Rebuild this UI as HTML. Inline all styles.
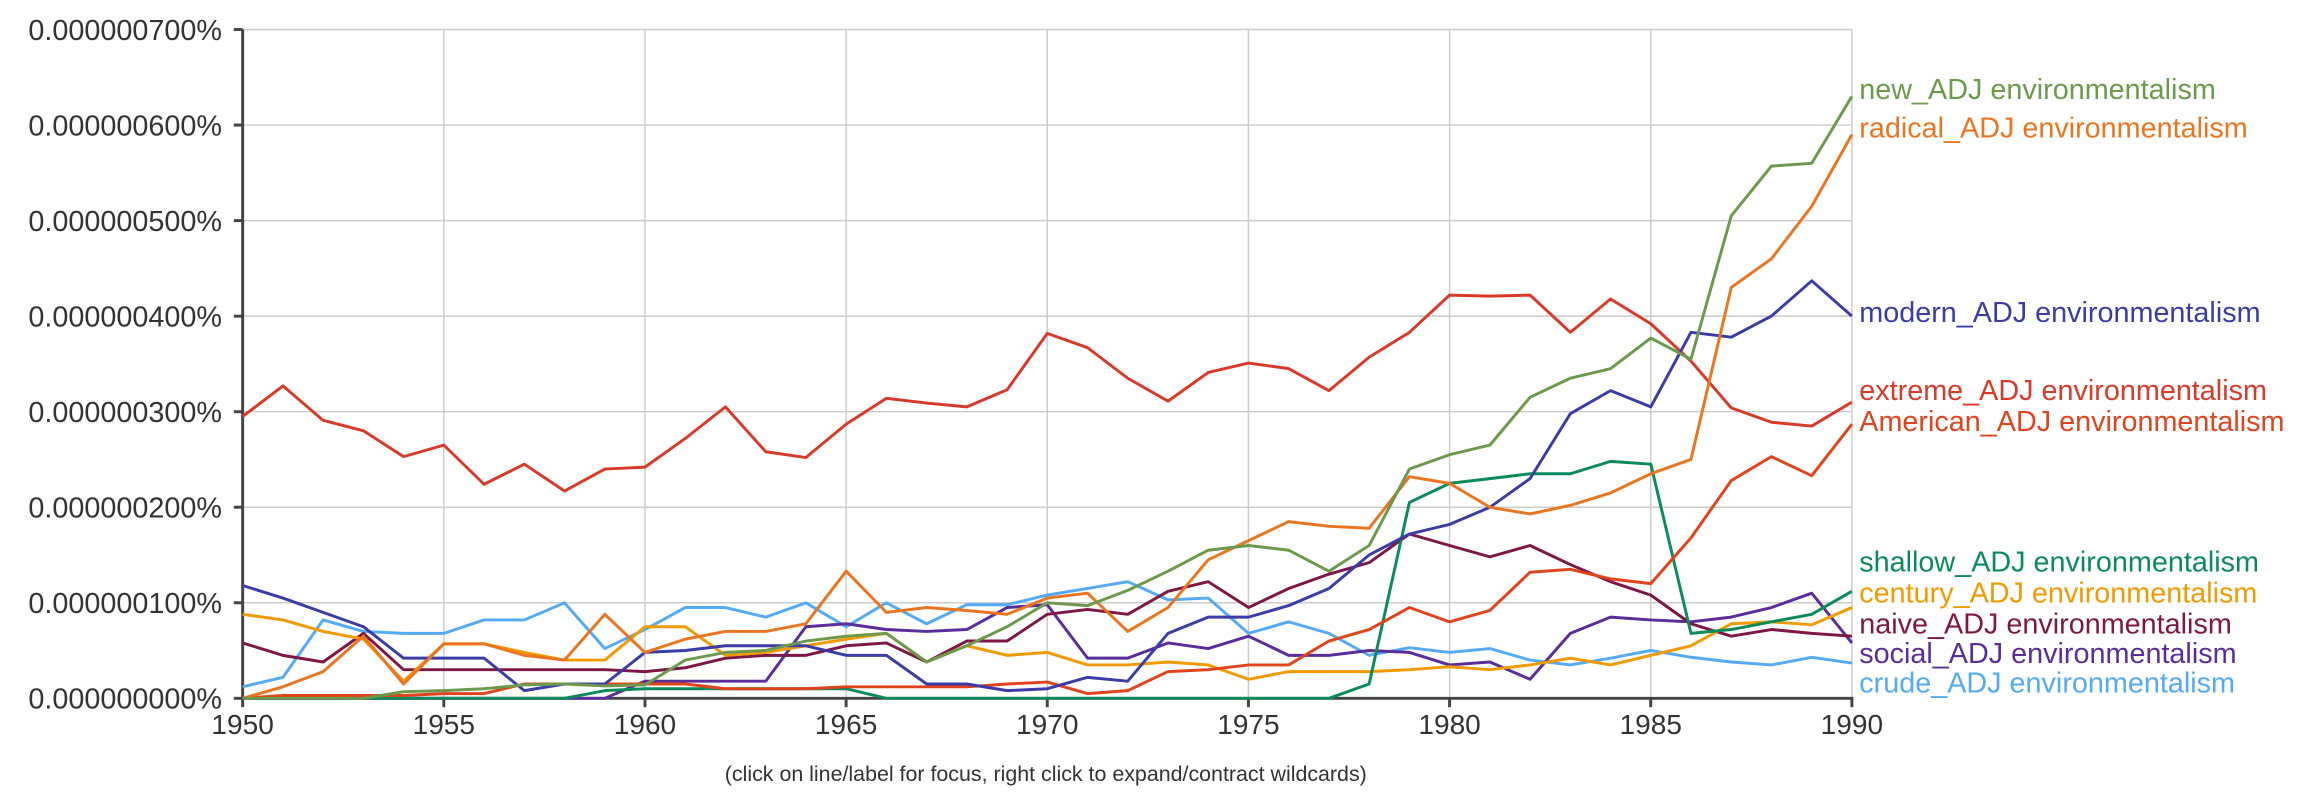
<!DOCTYPE html>
<html><head><meta charset="utf-8"><style>
html,body{margin:0;padding:0;background:#fff;}
svg{display:block;font-family:"Liberation Sans",Arial,sans-serif;}
</style></head><body>
<svg id="chart" width="2316" height="812" viewBox="0 0 1568 550" xmlns="http://www.w3.org/2000/svg">
<g id="grid"></g>
<g id="axes"></g>
<g id="lines"></g>
<g id="labels"></g>
<text x="708" y="529" font-size="14.5" fill="#333" text-anchor="middle">(click on line/label for focus, right click to expand/contract wildcards)</text>
</svg>
<script>
const years = [];
for (let y = 1950; y <= 1990; y++) years.push(y);
const yTicks = [0,100,200,300,400,500,600,700];
const yTickLabels = ["0.000000000%","0.000000100%","0.000000200%","0.000000300%","0.000000400%","0.000000500%","0.000000600%","0.000000700%"];
const xTicks = [1950,1955,1960,1965,1970,1975,1980,1985,1990];
const seriesNames = ["crude_ADJ environmentalism","social_ADJ environmentalism","naive_ADJ environmentalism","century_ADJ environmentalism","shallow_ADJ environmentalism","American_ADJ environmentalism","extreme_ADJ environmentalism","modern_ADJ environmentalism","radical_ADJ environmentalism","new_ADJ environmentalism"];
const crude = [12,22,82,70,68,68,82,82,100,52,72,95,95,85,100,75,100,78,98,98,108,115,122,103,105,68,80,68,45,53,48,52,40,35,42,50,43,38,35,43,37];
const social = [0,0,0,0,0,0,0,0,0,0,18,18,18,18,75,78,72,70,72,95,98,42,42,58,52,65,45,45,50,48,35,38,20,68,85,82,80,85,95,110,58];
const naive = [58,45,38,68,30,30,30,30,30,30,28,32,42,45,45,55,58,38,60,60,88,93,88,112,122,95,115,130,142,172,160,148,160,140,122,108,78,65,72,68,65];
const century = [88,82,70,62,18,57,57,48,40,40,75,75,45,48,55,62,68,38,55,45,48,35,35,38,35,20,28,28,28,30,33,30,35,42,35,45,55,78,80,77,95];
const shallow = [0,0,0,0,0,0,0,0,0,8,10,10,10,10,10,10,0,0,0,0,0,0,0,0,0,0,0,0,15,205,225,230,235,235,248,245,68,72,80,88,112];
const american = [0,3,3,3,3,5,5,15,15,15,15,15,10,10,10,12,12,12,12,15,17,5,8,28,30,35,35,60,72,95,80,92,132,135,125,120,168,228,253,233,287];
const extreme = [295,327,291,280,253,265,224,245,217,240,242,272,305,258,252,287,314,309,305,323,382,367,335,311,341,351,345,322,357,383,422,421,422,383,418,392,353,304,289,285,310];
const modern = [118,105,90,75,42,42,42,8,15,15,48,50,55,55,55,45,45,15,15,8,10,22,18,68,85,85,97,115,150,172,182,200,230,298,322,305,383,378,400,437,400];
const radical = [0,12,28,65,15,57,57,45,40,88,48,62,70,70,78,133,90,95,92,88,105,110,70,95,145,165,185,180,178,232,225,200,193,202,215,235,250,430,460,515,590];
const newS = [0,0,0,0,7,8,10,14,15,13,14,40,48,50,60,65,68,38,55,75,100,97,113,133,155,160,155,133,160,240,255,265,315,335,345,377,355,505,557,560,630];

const seriesData = [crude,social,naive,century,shallow,american,extreme,modern,radical,newS];
const colors = ["#55aaf5","#5a2d9a","#7d1746","#f09a00","#0b8a5a","#e0441c","#d83a2a","#3b3ca6","#ea7520","#6b9a4c"];
const labelY = [462,442,422,401,380,285,264,211,86,60];

const X0=164, X1=1254, Y0=473, Y1=20;
function xs(yr){return X0+(yr-1950)*(X1-X0)/40;}
function ys(v){return Y0-v*(Y0-Y1)/700;}
const NS="http://www.w3.org/2000/svg";
function mk(tag,attrs,parent){const e=document.createElementNS(NS,tag);for(const k in attrs)e.setAttribute(k,attrs[k]);parent.appendChild(e);return e;}
const grid=document.getElementById('grid'),axes=document.getElementById('axes'),lines=document.getElementById('lines'),labels=document.getElementById('labels');

yTicks.forEach((t,i)=>{
  const g=mk('line',{x1:X0,x2:X1,y1:ys(t),y2:ys(t),stroke:'#ccc','stroke-width':1},grid);
  
  
  const tk=mk('line',{x1:X0-6,x2:X0,y1:ys(t),y2:ys(t),stroke:'#444','stroke-width':2},axes);
  
  
  const tx=mk('text',{x:X0-14,y:ys(t)+7,'font-size':19.5,fill:'#333','text-anchor':'end'},axes);
  tx.textContent=yTickLabels[i];
  
  
});
xTicks.forEach(t=>{
  const g=mk('line',{x1:xs(t),x2:xs(t),y1:Y1,y2:Y0,stroke:'#ccc','stroke-width':1},grid);
  
  
  const tk=mk('line',{x1:xs(t),x2:xs(t),y1:Y0,y2:Y0+6,stroke:'#444','stroke-width':2},axes);
  
  
  const tx=mk('text',{x:xs(t),y:Y0+24,'font-size':19,fill:'#333','text-anchor':'middle'},axes);
  tx.textContent=t;
  
  
});
const ya=mk('line',{x1:X0,x2:X0,y1:Y1,y2:Y0+1,stroke:'#444','stroke-width':2},axes);


const xa=mk('line',{x1:X0-1,x2:X1+1,y1:Y0,y2:Y0,stroke:'#444','stroke-width':2},axes);



seriesData.forEach((d,i)=>{
  const pts=d.map((v,j)=>xs(years[j]).toFixed(1)+','+ys(v).toFixed(1)).join(' ');
  const p=mk('polyline',{points:pts,fill:'none',stroke:colors[i],'stroke-width':2,'stroke-linejoin':'round'},lines);
  
  
  const t=mk('text',{x:1259,y:labelY[i]+7,'font-size':19.5,fill:colors[i]},labels);
  t.textContent=seriesNames[i];
  
  
});
</script>
</body></html>
